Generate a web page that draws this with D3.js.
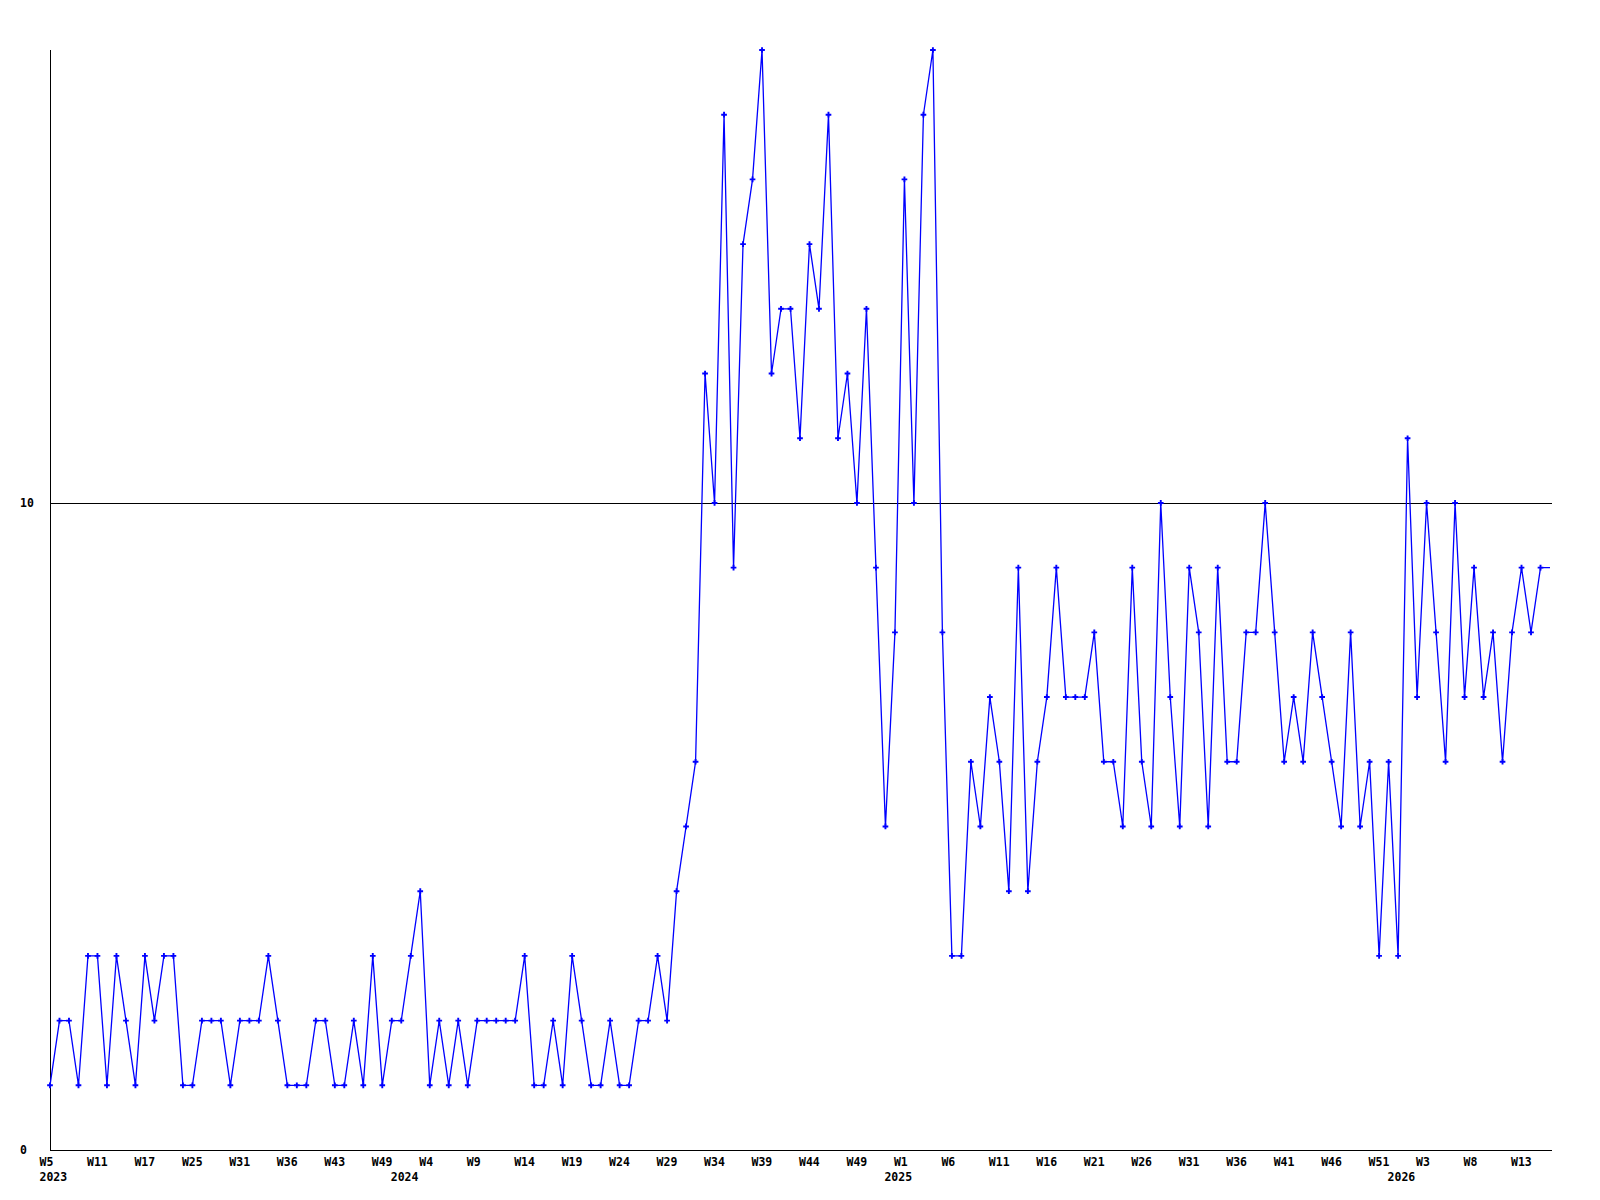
<!DOCTYPE html>
<html>
<head>
<meta charset="utf-8">
<script src="https://d3js.org/d3.v7.min.js"></script>
<style>
  body { margin: 0; background: #fff; }
  text { font-family: "DejaVu Sans Mono", "Liberation Mono", monospace; font-weight: bold; font-size: 11.5px; fill: #000; }
</style>
</head>
<body>
<div id="chart"></div>
<script>
// weekly counts, W5 2023 .. current week 2026
var values = [
  1, 2, 2, 1, 3, 3, 1, 3, 2, 1, 3, 2, 3, 3, 1, 1, 2, 2, 2, 1,
  2, 2, 2, 3, 2, 1, 1, 1, 2, 2, 1, 1, 2, 1, 3, 1, 2, 2, 3, 4,
  1, 2, 1, 2, 1, 2, 2, 2, 2, 2, 3, 1, 1, 2, 1, 3, 2, 1, 1, 2,
  1, 1, 2, 2, 3, 2, 4, 5, 6, 12, 10, 16, 9, 14, 15, 17, 12, 13, 13, 11,
  14, 13, 16, 11, 12, 10, 13, 9, 5, 8, 15, 10, 16, 17, 8, 3, 3, 6, 5, 7,
  6, 4, 9, 4, 6, 7, 9, 7, 7, 7, 8, 6, 6, 5, 9, 6, 5, 10, 7, 5,
  9, 8, 5, 9, 6, 6, 8, 8, 10, 8, 6, 7, 6, 8, 7, 6, 5, 8, 5, 6,
  3, 6, 3, 11, 7, 10, 8, 6, 10, 7, 9, 7, 8, 6, 8, 9, 8, 9, 9
];

// a label every 5th week
var weekLabels = ["W5", "W11", "W17", "W25", "W31", "W36", "W43", "W49",
  "W4", "W9", "W14", "W19", "W24", "W29", "W34", "W39", "W44", "W49",
  "W1", "W6", "W11", "W16", "W21", "W26", "W31", "W36", "W41", "W46",
  "W51", "W3", "W8", "W13"];
var labelStep = 5;

// year shown at the first week of each year (index into values)
var yearIndex = [0, 37, 89, 142],
  yearNames = ["2023", "2024", "2025", "2026"];

var yTicks = [0, 10],
  yMax = 17,
  refLine = 10;

var svg_dx = 1600,
  svg_dy = 1200,
  margin = { top: 50, right: 49, bottom: 50, left: 50 };

var xScale = d3.scaleLinear()
  .domain([0, values.length - 1])
  .range([margin.left, svg_dx - margin.right - 1]);

var yScale = d3.scaleLinear()
  .domain([0, yMax])
  .range([svg_dy - margin.bottom, margin.top]);

var svg = d3.select("#chart")
  .append("svg")
  .attr("width", svg_dx)
  .attr("height", svg_dy);

var x0 = margin.left,
  x1 = svg_dx - margin.right,
  yBase = yScale(0);

// axes and reference line
var axes = svg.append("g")
  .attr("stroke", "#000")
  .attr("shape-rendering", "crispEdges");

axes.append("line")
  .attr("x1", x0 + 0.5).attr("x2", x0 + 0.5)
  .attr("y1", yScale(yMax)).attr("y2", yBase + 0.5);

axes.append("line")
  .attr("x1", x0).attr("x2", x1 + 1)
  .attr("y1", yBase + 0.5).attr("y2", yBase + 0.5);

axes.append("line")
  .attr("x1", x0).attr("x2", x1 + 1)
  .attr("y1", Math.round(yScale(refLine)) + 0.5)
  .attr("y2", Math.round(yScale(refLine)) + 0.5);

// y labels
svg.append("g")
  .selectAll("text")
  .data(yTicks)
  .enter()
  .append("text")
  .attr("x", 20)
  .attr("y", d => yScale(d))
  .attr("dy", "0.36em")
  .text(d => d);

// week labels, left aligned just before their point
svg.append("g")
  .selectAll("text")
  .data(weekLabels)
  .enter()
  .append("text")
  .attr("x", (d, i) => xScale(i * labelStep) - 10.5)
  .attr("y", yBase + 16)
  .text(d => d);

svg.append("g")
  .selectAll("text")
  .data(yearNames)
  .enter()
  .append("text")
  .attr("x", (d, i) => xScale(yearIndex[i]) - 10.5)
  .attr("y", yBase + 31)
  .text(d => d);

// the data line
var line = d3.line()
  .x((d, i) => xScale(i))
  .y(d => yScale(d));

svg.append("path")
  .datum(values)
  .attr("fill", "none")
  .attr("stroke", "#0000ff")
  .attr("stroke-width", 1.3)
  .attr("d", line);

// markers (current, unfinished week has none)
var marker = d3.symbol().type(d3.symbolCross).size(18);

svg.append("g")
  .selectAll("path")
  .data(values.slice(0, values.length - 1))
  .enter()
  .append("path")
  .attr("transform", (d, i) => "translate(" + xScale(i) + "," + yScale(d) + ")")
  .attr("fill", "#0000ff")
  .attr("d", marker);
</script>
</body>
</html>
